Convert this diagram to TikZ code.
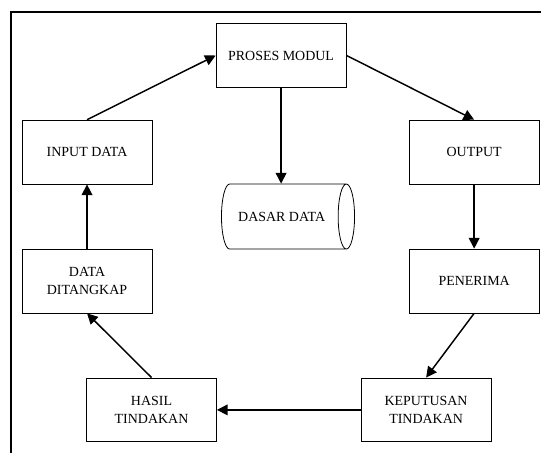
\documentclass[tikz,border=0pt]{standalone}
\usepackage{fontspec}
\setmainfont{Liberation Serif}
\usetikzlibrary{shapes.geometric,arrows.meta}

\begin{document}
\begin{tikzpicture}[node distance=3.41cm, >={Triangle[length=8pt,width=8pt]},
  procbox/.style={draw, line width=0.6pt, rectangle, minimum width=3.44cm, minimum height=1.69cm,
    align=center, font=\fontsize{10.5}{13.5}\selectfont},
  flow/.style={->, line width=1.1pt}]
  \useasboundingbox (0,0) rectangle (14.31,-11.985);
  \draw[line width=1.5pt] (0.29,-11.985) -- (0.29,-0.32) -- (14.31,-0.32);

  \node[procbox] (PM) at (7.435,-1.468) {PROSES MODUL};
  \node[procbox] (ID) at (2.302,-4.022) {INPUT DATA};
  \node[procbox, below of=ID] (DT) {DATA\\DITANGKAP};
  \node[procbox, right of=ID, xshift=6.83cm] (OUT) {OUTPUT};
  \node[procbox, below of=OUT] (PEN) {PENERIMA};
  \node[procbox, below of=DT, xshift=1.706cm] (HT) {HASIL\\TINDAKAN};
  \node[procbox, right of=HT, xshift=3.853cm] (KT) {KEPUTUSAN\\TINDAKAN};
  \node[draw, line width=0.6pt, cylinder, aspect=0.9, minimum width=1.72cm, minimum height=3.52cm,
    font=\fontsize{10.5}{13.5}\selectfont] (DB) at (7.45,-5.728) {DASAR DATA};

  \draw[flow] (ID.north) -- (PM.west);
  \draw[flow] (PM.east) -- (OUT.north);
  \draw[flow] (PM.south) -- (PM.south |- DB.north);
  \draw[flow] (OUT) -- (PEN);
  \draw[flow] (PEN.south) -- (KT.north);
  \draw[flow] (KT) -- (HT);
  \draw[flow] (HT.north) -- (DT.south);
  \draw[flow] (DT) -- (ID);
\end{tikzpicture}
\end{document}
